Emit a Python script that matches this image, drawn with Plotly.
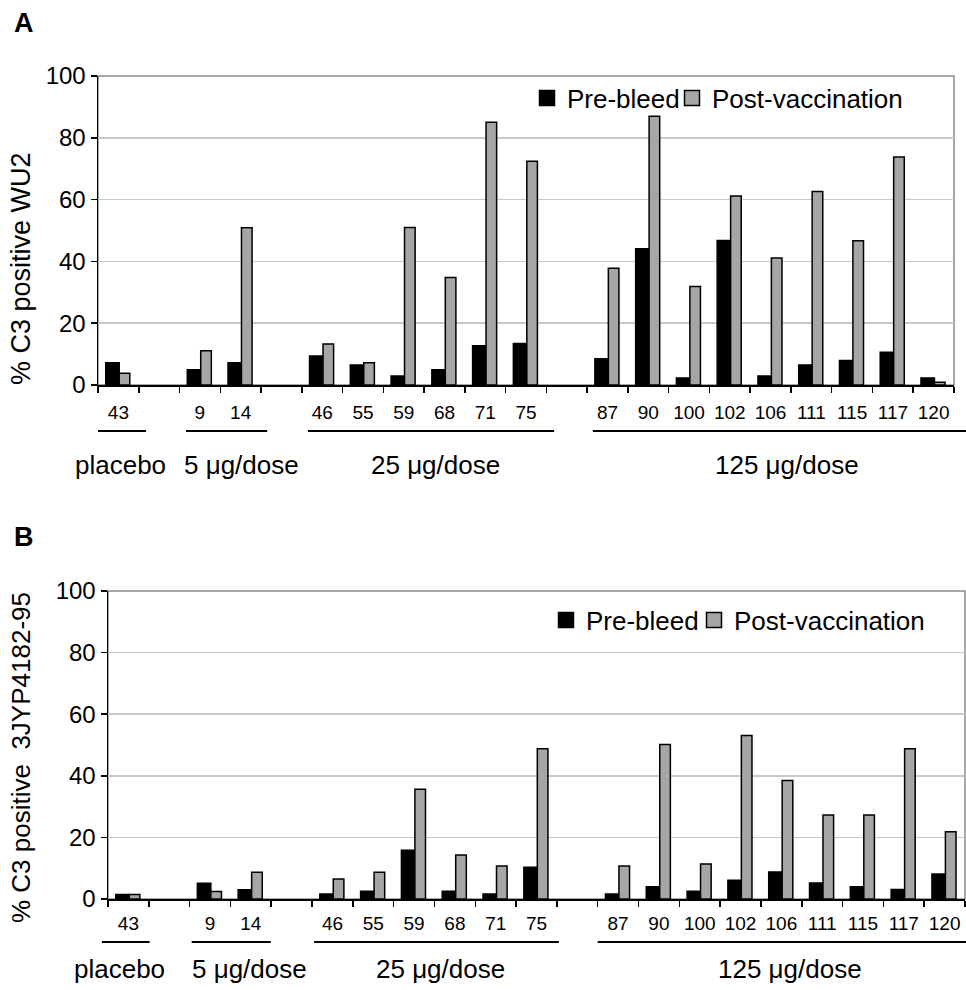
import plotly.graph_objects as go

# ---------------- data ----------------
categories = ["43", " ", "9", "14", "  ", "46", "55", "59", "68", "71", "75", "   ",
              "87", "90", "100", "102", "106", "111", "115", "117", "120"]

pre_A = [7.2, None, 4.9, 7.2, None, 9.4, 6.5, 2.9, 4.9, 12.7, 13.4, None,
         8.5, 44.1, 2.3, 46.8, 2.9, 6.5, 7.9, 10.6, 2.3]
post_A = [3.8, None, 11.1, 50.9, None, 13.3, 7.2, 51.0, 34.8, 85.0, 72.4, None,
          37.8, 87.0, 31.9, 61.2, 41.1, 62.6, 46.7, 73.8, 0.9]

pre_B = [1.5, None, 5.1, 3.0, None, 1.6, 2.5, 15.8, 2.5, 1.6, 10.3, None,
         1.6, 4.0, 2.5, 6.1, 8.8, 5.2, 4.0, 3.1, 8.1]
post_B = [1.5, None, 2.4, 8.7, None, 6.5, 8.7, 35.6, 14.3, 10.7, 48.8, None,
          10.7, 50.2, 11.4, 53.1, 38.5, 27.3, 27.3, 48.8, 21.8]

group_names = ["placebo", "5 \u03bcg/dose", "25 \u03bcg/dose", "125 \u03bcg/dose"]

y_ticks = [0, 20, 40, 60, 80, 100]
series_names = ["Pre-bleed", "Post-vaccination"]

# ---------------- style ----------------
FONT = "Liberation Sans, Arial, Helvetica, sans-serif"
BLACK = "#000000"
GRAY = "#a6a6a6"
W, H = 966, 990
N = len(categories)

fig = go.Figure()

def add_panel(pre, post, xa, ya, legends):
    fig.add_trace(go.Bar(x=categories, y=pre, xaxis=xa, yaxis=ya, name=series_names[0],
                         marker=dict(color=BLACK, line=dict(color=BLACK, width=1.5)),
                         width=0.33, offset=-0.31, showlegend=False))
    fig.add_trace(go.Bar(x=categories, y=post, xaxis=xa, yaxis=ya, name=series_names[1],
                         marker=dict(color=GRAY, line=dict(color=BLACK, width=1.5)),
                         width=0.26, offset=0.02, showlegend=False))
    for nm, col, lg in zip(series_names, [BLACK, GRAY], legends):
        fig.add_trace(go.Scatter(x=[None], y=[None], xaxis=xa, yaxis=ya, name=nm,
                                 mode="markers", legend=lg,
                                 marker=dict(symbol="square", size=15, color=col,
                                             line=dict(color=BLACK, width=1.5))))

add_panel(pre_A, post_A, "x", "y", ["legend", "legend2"])
add_panel(pre_B, post_B, "x2", "y2", ["legend3", "legend4"])

def px_x(p):
    return p / W

def px_y(p):
    return 1 - p / H

panels = {
    "A": dict(x0=98, x1=954, y0=76, y1=385, xa="x", ya="y", standoff=10),
    "B": dict(x0=108, x1=965, y0=591, y1=899, xa="x2", ya="y2", standoff=7),
}

xaxis_common = dict(type="category", categoryorder="array", categoryarray=categories,
                    range=[-0.5, N - 0.5], showgrid=False, showline=True, linecolor=BLACK,
                    linewidth=1.5, ticks="outside", tickson="boundaries", ticklen=6,
                    tickwidth=1.5, tickcolor=BLACK, tickangle=0,
                    tickfont=dict(family=FONT, size=19, color=BLACK), fixedrange=True,
                    automargin=False)
yaxis_common = dict(range=[0, 100], tickvals=y_ticks, showgrid=True, gridcolor="#c8c8c8",
                    gridwidth=1.5, showline=True, linecolor=BLACK, linewidth=1.5,
                    ticks="outside", ticklen=6, tickwidth=1.5, tickcolor=BLACK,
                    zeroline=False, automargin=False, fixedrange=True,
                    tickfont=dict(family=FONT, size=24, color=BLACK))

pA, pB = panels["A"], panels["B"]
fig.update_layout(
    xaxis=dict(xaxis_common, domain=[px_x(pA["x0"]), px_x(pA["x1"])], anchor="y",
               ticklabelstandoff=pA["standoff"]),
    yaxis=dict(yaxis_common, domain=[px_y(pA["y1"]), px_y(pA["y0"])], anchor="x"),
    xaxis2=dict(xaxis_common, domain=[px_x(pB["x0"]), px_x(pB["x1"])], anchor="y2",
                ticklabelstandoff=pB["standoff"]),
    yaxis2=dict(yaxis_common, domain=[px_y(pB["y1"]), px_y(pB["y0"])], anchor="x2"),
)

shapes = []
annotations = []

def slot_frac(v):
    return (v + 0.5) / N

layout_info = [
    ("A", 23, "% C3 positive WU2", 269, 27, 431, 465,
     [0.04, 3.03, 7.77, 16.4], [(-0.5, 0.68), (1.66, 3.65), (4.65, 10.69), (11.64, 20.8)]),
    ("B", 537, "% C3 positive  3JYP4182-95", 758, 26, 942, 969,
     [-0.23, 2.96, 7.64, 16.2], [(-0.65, 0.52), (1.55, 3.49), (4.55, 10.55), (11.5, 20.55)]),
]

for (key, letter_y, title, title_y, title_size, ul_y, lab_y, lab_x, ul_x) in layout_info:
    p = panels[key]
    xdom = "x domain" if p["xa"] == "x" else "x2 domain"
    ydom = "y domain" if p["ya"] == "y" else "y2 domain"
    shapes.append(dict(type="rect", xref=xdom, yref=ydom, x0=0, x1=1, y0=0, y1=1,
                       line=dict(color="#8c8c8c", width=1.5), layer="below"))
    for (a, b) in ul_x:
        shapes.append(dict(type="line", xref=xdom, yref="paper", x0=slot_frac(a), x1=slot_frac(b),
                           y0=px_y(ul_y), y1=px_y(ul_y), line=dict(color=BLACK, width=2)))
    for name, xv in zip(group_names, lab_x):
        annotations.append(dict(text=name, xref=p["xa"], yref="paper", x=xv, y=px_y(lab_y),
                                xanchor="center", yanchor="middle", showarrow=False,
                                font=dict(family=FONT, size=26, color=BLACK)))
    annotations.append(dict(text="<b>%s</b>" % key, xref="paper", yref="paper",
                            x=px_x(24), y=px_y(letter_y), xanchor="center", yanchor="middle",
                            showarrow=False, font=dict(family=FONT, size=27, color=BLACK)))
    annotations.append(dict(text=title, xref="paper", yref="paper", x=px_x(21), y=px_y(title_y),
                            xanchor="center", yanchor="middle", textangle=-90, showarrow=False,
                            font=dict(family=FONT, size=title_size, color=BLACK)))

legend_style = dict(orientation="h", xanchor="left", yanchor="middle", bgcolor="rgba(0,0,0,0)",
                    font=dict(family=FONT, size=26, color=BLACK), itemclick=False,
                    itemdoubleclick=False, tracegroupgap=0)

# legend item positions (page pixels): (left, vertical centre)
legend_pos = {"legend": (527, 98), "legend2": (672, 98),
              "legend3": (546, 620), "legend4": (694, 620)}

fig.update_layout(
    width=W, height=H, margin=dict(l=0, r=0, t=0, b=0, autoexpand=False),
    paper_bgcolor="white", plot_bgcolor="white",
    shapes=shapes, annotations=annotations,
    bargap=0, barmode="overlay", hovermode=False,
    font=dict(family=FONT, color=BLACK),
    **{k: dict(legend_style, x=px_x(v[0]), y=px_y(v[1])) for k, v in legend_pos.items()}
)

fig.write_html("out.html", config={"displayModeBar": False, "staticPlot": True},
               post_script="document.body.style.margin='0';document.body.style.overflow='hidden';")
